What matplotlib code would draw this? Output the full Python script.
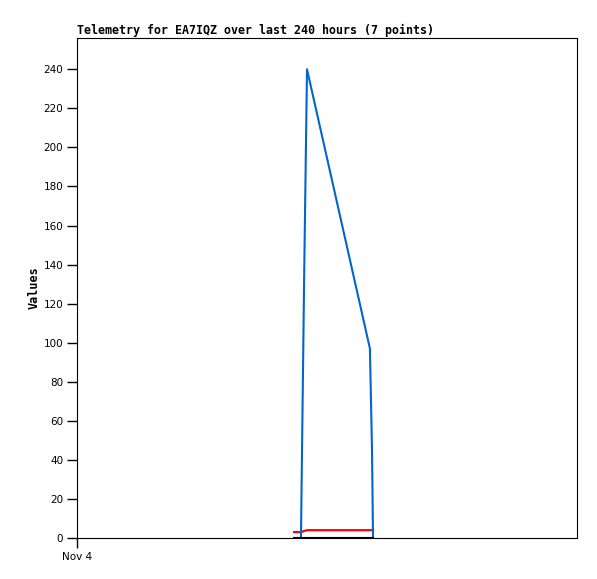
import matplotlib
matplotlib.use("Agg")
import matplotlib.pyplot as plt

# hours since the start of the 240 hour window (Nov 4)
hours = [104.2, 107.5, 109.0, 110.4, 140.6, 141.6, 142.1]
blue_vals = [0, 0, 131, 240, 97, 45, 0]
red_vals = [3, 3, 3.6, 4, 4, 4, 4]
black_vals = [0, 0, 0, 0, 0, 0, 0]

x_ticks = [0]
x_tick_labels = ["Nov 4"]
y_ticks = list(range(0, 241, 20))

fig = plt.figure(figsize=(5.97, 5.79), dpi=100)
ax = fig.add_axes([77 / 597, 1 - 538 / 579, 500 / 597, 500 / 579])

ax.plot(hours, red_vals, color="#ff0000", linewidth=1.6)
ax.plot(hours, blue_vals, color="#0066cc", linewidth=1.5)
ax.plot(hours, black_vals, color="black", linewidth=1.5)

ax.set_xlim(0, 240)
ax.set_ylim(0, 256)
ax.set_xticks(x_ticks)
ax.set_xticklabels(x_tick_labels)
ax.set_yticks(y_ticks)
ax.tick_params(axis="both", direction="out", length=7, width=1, labelsize=7.5, pad=3)

for side in ["top", "right"]:
    ax.spines[side].set_linewidth(0.8)

ax.set_ylabel("Values", family="DejaVu Sans Mono", fontweight="bold", fontsize=8.5, labelpad=2)
ax.set_title("Telemetry for EA7IQZ over last 240 hours (7 points)", loc="left",
             family="DejaVu Sans Mono", fontweight="bold", fontsize=8.4, pad=3)

fig.savefig("out.png", dpi=100)
